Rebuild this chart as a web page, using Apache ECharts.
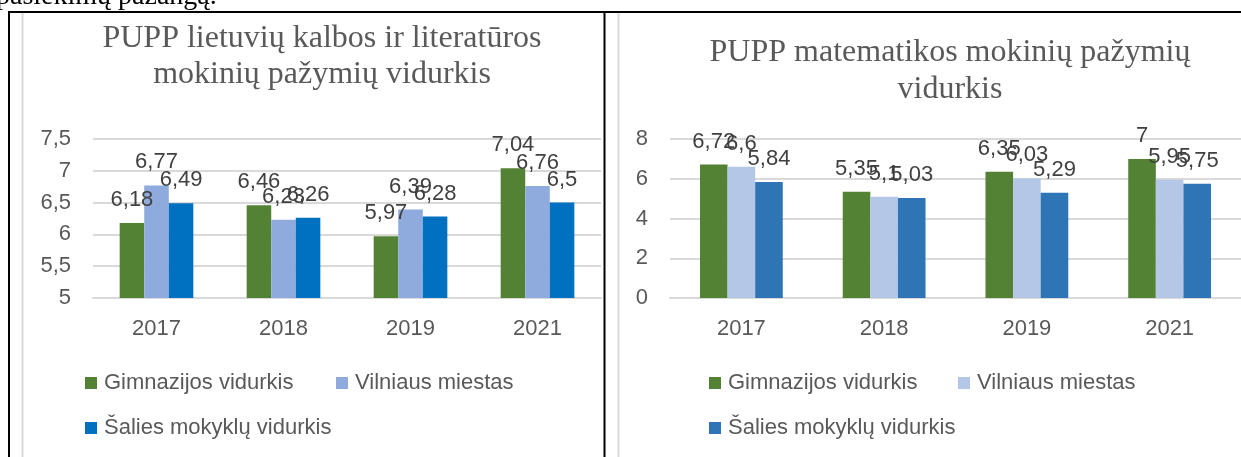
<!DOCTYPE html>
<html>
<head>
<meta charset="utf-8">
<script src="https://cdn.jsdelivr.net/npm/echarts@6/dist/echarts.min.js"></script>
<style>
html,body{margin:0;padding:0;background:#fff;}
#c{width:1241px;height:457px;}
</style>
</head>
<body>
<div id="c"></div>
<script>
const categories = ['2017', '2018', '2019', '2021'];
const seriesNames = ['Gimnazijos vidurkis', 'Vilniaus miestas', 'Šalies mokyklų vidurkis'];

const litGimnazija = [6.18, 6.46, 5.97, 7.04];
const litVilnius = [6.77, 6.23, 6.39, 6.76];
const litSalis = [6.49, 6.26, 6.28, 6.5];

const matGimnazija = [6.72, 5.35, 6.35, 7];
const matVilnius = [6.6, 5.1, 6.03, 5.95];
const matSalis = [5.84, 5.03, 5.29, 5.75];

const litTitle = 'PUPP lietuvių kalbos ir literatūros\nmokinių pažymių vidurkis';
const matTitle = 'PUPP matematikos mokinių pažymių\nvidurkis';
const caption = 'pasiekimų pažangą.';

const litColors = ['#548235', '#8FAADC', '#0070C0'];
const matColors = ['#548235', '#B4C7E7', '#2E75B6'];

const SANS = 'Liberation Sans';
const SERIF = 'Liberation Serif';
const txt = '#595959';
const gridCol = '#D9D9D9';
const fmt = v => String(v).replace('.', ',');

function xAx(gi) {
  return {
    type: 'category', gridIndex: gi, data: categories,
    axisTick: { show: false },
    axisLine: { lineStyle: { color: gridCol, width: 2 } },
    axisLabel: { fontFamily: SANS, fontSize: 22, color: txt, margin: 20 }
  };
}
function yAx(gi, min, max, interval) {
  return {
    type: 'value', gridIndex: gi, min: min, max: max, interval: interval,
    axisLine: { show: false }, axisTick: { show: false },
    splitLine: { lineStyle: { color: gridCol, width: 2 } },
    axisLabel: { fontFamily: SANS, fontSize: 22, color: txt, margin: 22, formatter: fmt }
  };
}
function bar(name, data, color, ai) {
  return {
    type: 'bar', name: name, data: data, xAxisIndex: ai, yAxisIndex: ai,
    barGap: '0%', barCategoryGap: '42%',
    itemStyle: { color: color },
    label: {
      show: true, position: 'top', distance: 12,
      fontFamily: SANS, fontSize: 22, color: '#404040',
      formatter: p => fmt(p.value)
    },
    emphasis: { disabled: true },
    animation: false
  };
}
function leg(name, color, left, top) {
  return {
    left: left, top: top, padding: 0, selectedMode: false,
    icon: 'rect', itemWidth: 12, itemHeight: 12,
    textStyle: { fontFamily: SANS, fontSize: 22, color: txt, lineHeight: 22, padding: [0, 0, 0, 2] },
    data: [{ name: name, itemStyle: { color: color } }]
  };
}

const chart = echarts.init(document.getElementById('c'), null, { renderer: 'canvas' });
chart.setOption({
  backgroundColor: '#ffffff',
  animation: false,
  title: [
    { text: litTitle, left: 322, top: 21, textAlign: 'center', padding: 0,
      textStyle: { fontFamily: SERIF, fontSize: 32, fontWeight: 'normal', color: txt, lineHeight: 36 } },
    { text: matTitle, left: 950, top: 34, textAlign: 'center', padding: 0,
      textStyle: { fontFamily: SERIF, fontSize: 32, fontWeight: 'normal', color: txt, lineHeight: 37 } }
  ],
  grid: [
    { left: 93, top: 139, width: 508, height: 159 },
    { left: 670, top: 139, width: 584, height: 159 }
  ],
  xAxis: [xAx(0), xAx(1)],
  yAxis: [yAx(0, 5, 7.5, 0.5), yAx(1, 0, 8, 2)],
  legend: [
    leg(seriesNames[0], litColors[0], 85, 372),
    leg(seriesNames[1], litColors[1], 336, 372),
    leg(seriesNames[2], litColors[2], 85, 417),
    leg(seriesNames[0], matColors[0], 709, 372),
    leg(seriesNames[1], matColors[1], 958, 372),
    leg(seriesNames[2], matColors[2], 709, 417)
  ],
  series: [
    bar(seriesNames[0], litGimnazija, litColors[0], 0),
    bar(seriesNames[1], litVilnius, litColors[1], 0),
    bar(seriesNames[2], litSalis, litColors[2], 0),
    bar(seriesNames[0], matGimnazija, matColors[0], 1),
    bar(seriesNames[1], matVilnius, matColors[1], 1),
    bar(seriesNames[2], matSalis, matColors[2], 1)
  ],
  graphic: [
    { type: 'text', left: -4, top: -17, silent: true,
      style: { text: caption, font: '28px "Liberation Serif"', fill: '#000' } },
    { type: 'line', silent: true, shape: { x1: 8, y1: 12, x2: 1241, y2: 12 }, style: { stroke: '#000', lineWidth: 2 } },
    { type: 'line', silent: true, shape: { x1: 9, y1: 12, x2: 9, y2: 457 }, style: { stroke: '#000', lineWidth: 2 } },
    { type: 'line', silent: true, shape: { x1: 604.5, y1: 12, x2: 604.5, y2: 457 }, style: { stroke: '#000', lineWidth: 2 } },
    { type: 'line', silent: true, shape: { x1: 22.5, y1: 13, x2: 22.5, y2: 457 }, style: { stroke: gridCol, lineWidth: 2 } },
    { type: 'line', silent: true, shape: { x1: 618.5, y1: 13, x2: 618.5, y2: 457 }, style: { stroke: gridCol, lineWidth: 2 } }
  ]
});
</script>
</body>
</html>
